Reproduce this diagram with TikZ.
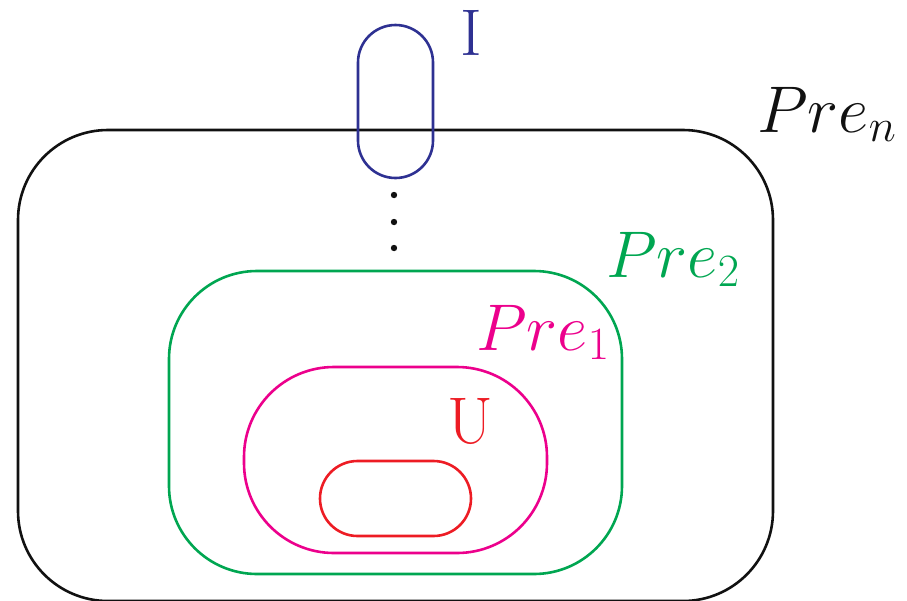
\RequirePackage{fix-cm}
\documentclass[tikz,border=0pt]{standalone}
\usetikzlibrary{positioning}
\definecolor{SetInk}{HTML}{111111}
\definecolor{SetBlue}{HTML}{2E3192}
\definecolor{SetGreen}{HTML}{00A651}
\definecolor{SetMagenta}{HTML}{EC008C}
\definecolor{SetRed}{HTML}{ED1C24}
\tikzset{
  every node/.style={inner sep=0pt, anchor=base west, font=\fontsize{33}{40}\selectfont},
  region/.style={line width=1.3pt},
}
\begin{document}
\begin{tikzpicture}[x=0.5pt,y=-0.5pt]
  \useasboundingbox (0,0) rectangle (907,601);
  % Pre_n
  \draw[region, SetInk, rounded corners=45pt] (18,130) rectangle (773,601);
  \node[text=SetInk] (preN) at (757,132) {$Pre_n$};
  % Pre_2
  \draw[region, SetGreen, rounded corners=44pt] (169,271) rectangle (622,574);
  \node[text=SetGreen] (preTwo) at (606,277) {$Pre_2$};
  % Pre_1
  \draw[region, SetMagenta, rounded corners=45pt] (244,367) rectangle (547,553);
  \node[text=SetMagenta] (preOne) at (476,350) {$Pre_1$};
  % U
  \draw[region, SetRed, rounded corners=18.75pt] (320,461) rectangle (471,536);
  \node[text=SetRed] (labU) at (447,443) {U};
  % I
  \draw[region, SetBlue, rounded corners=18.75pt] (358,25) rectangle (433,178);
  \node[text=SetBlue] (labI) at (460,55) {I};
  % dots
  \foreach \y in {195,222,248}
    \fill[SetInk] (394,\y) circle (1.6pt);
\end{tikzpicture}
\end{document}
